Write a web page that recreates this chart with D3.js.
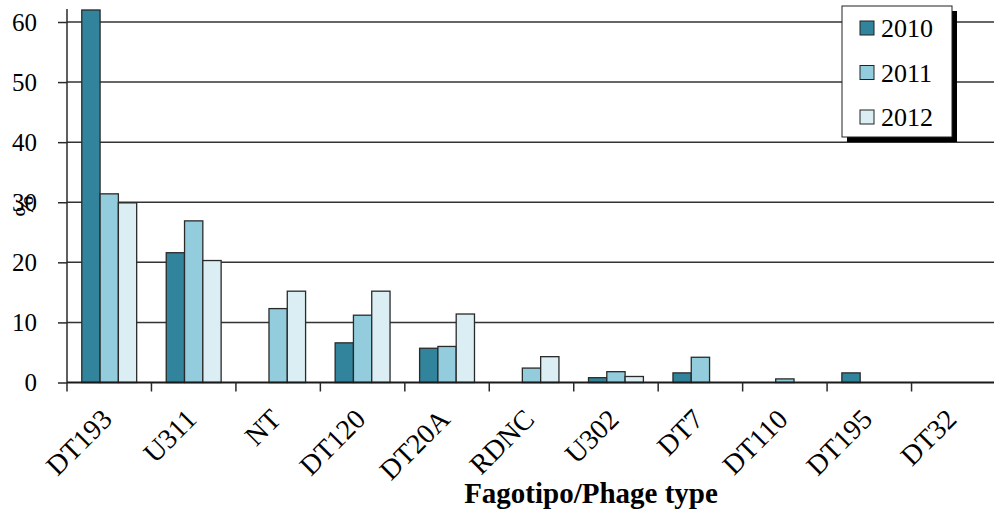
<!DOCTYPE html>
<html>
<head>
<meta charset="utf-8">
<script src="https://cdn.jsdelivr.net/npm/d3@7"></script>
<style>
  html, body { margin: 0; padding: 0; background: #fff; }
  svg { display: block; }
  text { font-family: "Liberation Serif", "Times New Roman", serif; fill: #000; }
</style>
</head>
<body>
<svg id="chart" width="994" height="518"></svg>
<script>
// Phage types of isolates, percentage by year
const categories = ["DT193", "U311", "NT", "DT120", "DT20A", "RDNC", "U302", "DT7", "DT110", "DT195", "DT32"];
const years = ["2010", "2011", "2012"];
const values2010 = [62, 21.6, 0, 6.6, 5.7, 0, 0.8, 1.6, 0, 1.6, 0];
const values2011 = [31.4, 26.9, 12.3, 11.2, 6.0, 2.4, 1.8, 4.2, 0.6, 0, 0];
const values2012 = [29.9, 20.3, 15.2, 15.2, 11.4, 4.3, 1.0, 0, 0, 0, 0];
const yTicks = [0, 10, 20, 30, 40, 50, 60];
const colors = ["#31849b", "#93cddd", "#daeef3"];

const series = [values2010, values2011, values2012];

const svg = d3.select("#chart");
const plotLeft = 67, plotRight = 996, plotBottom = 382.5, plotTop = 22;

const x = d3.scaleBand().domain(categories).range([plotLeft, plotRight]).padding(0);
const bw = x.bandwidth();
const x1 = d3.scaleBand().domain(years).range([bw * 0.175, bw * 0.825]).padding(0);
const y = d3.scaleLinear().domain([0, 60]).range([plotBottom, plotTop]);

// horizontal gridlines
svg.append("g")
  .selectAll("line")
  .data(yTicks.filter(d => d > 0))
  .join("line")
  .attr("x1", plotLeft).attr("x2", 994)
  .attr("y1", d => y(d)).attr("y2", d => y(d))
  .attr("stroke", "#333").attr("stroke-width", 1.5);

// bars
const groups = svg.append("g")
  .selectAll("g")
  .data(categories)
  .join("g")
  .attr("transform", d => `translate(${x(d)},0)`);

groups.selectAll("rect")
  .data((c, i) => years.map((yr, k) => ({ yr, k, v: series[k][i] })).filter(d => d.v > 0))
  .join("rect")
  .attr("x", d => x1(d.yr))
  .attr("width", x1.bandwidth())
  .attr("y", d => y(d.v))
  .attr("height", d => y(0) - y(d.v))
  .attr("fill", d => colors[d.k])
  .attr("stroke", "#2a2a2a")
  .attr("stroke-width", 1.3);

// y axis
const yAxis = svg.append("g")
  .attr("transform", `translate(${plotLeft},0)`)
  .call(d3.axisLeft(y).tickValues(yTicks).tickSize(9).tickPadding(21).tickFormat(d3.format("d")));
yAxis.select(".domain").remove();
yAxis.selectAll(".tick line").attr("stroke", "#2a2a2a").attr("stroke-width", 1.5);
yAxis.selectAll(".tick text").style("font-size", "25px").style("font-family", "Liberation Serif, serif").attr("fill", "#222");
svg.append("line")
  .attr("x1", plotLeft).attr("x2", plotLeft)
  .attr("y1", y(0)).attr("y2", 9)
  .attr("stroke", "#2a2a2a").attr("stroke-width", 1.5);

// y axis title
svg.append("text")
  .attr("transform", "translate(33,206) rotate(-90)")
  .attr("text-anchor", "middle")
  .style("font-size", "25px")
  .text("%");

// x axis line and category boundary ticks
svg.append("line")
  .attr("x1", plotLeft).attr("x2", 994)
  .attr("y1", y(0)).attr("y2", y(0))
  .attr("stroke", "#1a1a1a").attr("stroke-width", 1.8);
svg.append("g")
  .selectAll("line")
  .data(categories)
  .join("line")
  .attr("x1", d => x(d)).attr("x2", d => x(d))
  .attr("y1", y(0)).attr("y2", y(0) + 9)
  .attr("stroke", "#2a2a2a").attr("stroke-width", 1.5);

// rotated category labels
svg.append("g")
  .selectAll("text")
  .data(categories)
  .join("text")
  .attr("transform", d => `translate(${x(d) + bw / 2 - 9},${y(0) + 25}) rotate(-45)`)
  .attr("text-anchor", "end")
  .attr("dy", "0.68em")
  .style("font-size", "28px")
  .text(d => d);

// x axis title
svg.append("text")
  .attr("x", 591).attr("y", 503)
  .attr("text-anchor", "middle")
  .style("font-size", "29px")
  .style("font-weight", "bold")
  .text("Fagotipo/Phage type");

// legend with drop shadow
const lg = svg.append("g").attr("transform", "translate(842,6)");
lg.append("rect").attr("x", 5).attr("y", 5).attr("width", 110).attr("height", 131).attr("fill", "#000");
lg.append("rect").attr("x", 0).attr("y", 0).attr("width", 110).attr("height", 131)
  .attr("fill", "#fff").attr("stroke", "#222").attr("stroke-width", 1);
const items = lg.selectAll("g.item")
  .data(years)
  .join("g")
  .attr("class", "item")
  .attr("transform", (d, i) => `translate(0,${22 + i * 44.5})`);
items.append("rect")
  .attr("x", 18).attr("y", -7).attr("width", 14).attr("height", 14)
  .attr("fill", (d, i) => colors[i]).attr("stroke", "#222").attr("stroke-width", 1);
items.append("text")
  .attr("x", 39).attr("y", 0).attr("dy", "0.35em")
  .style("font-size", "26px")
  .text(d => d);
</script>
</body>
</html>
